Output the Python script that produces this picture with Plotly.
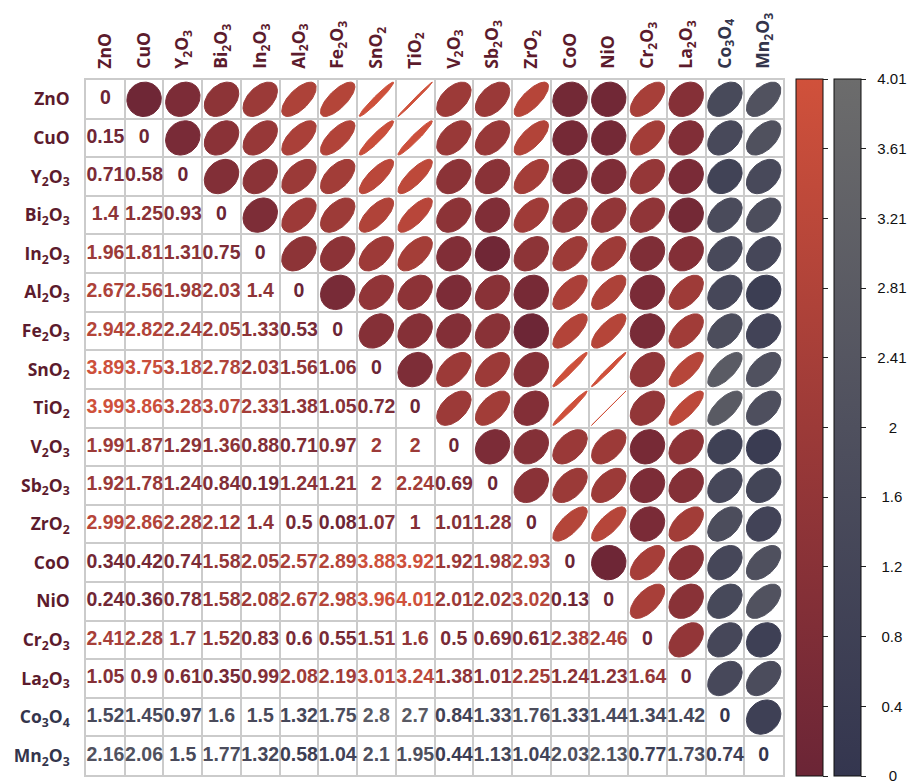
import numpy as np
import plotly.graph_objects as go
from plotly.colors import sample_colorscale

# Oxide names (HTML sub/superscripts are rendered by plotly)
oxides = ["ZnO", "CuO", "Y<sub>2</sub>O<sub>3</sub>", "Bi<sub>2</sub>O<sub>3</sub>",
          "In<sub>2</sub>O<sub>3</sub>", "Al<sub>2</sub>O<sub>3</sub>", "Fe<sub>2</sub>O<sub>3</sub>",
          "SnO<sub>2</sub>", "TiO<sub>2</sub>", "V<sub>2</sub>O<sub>3</sub>",
          "Sb<sub>2</sub>O<sub>3</sub>", "ZrO<sub>2</sub>", "CoO", "NiO",
          "Cr<sub>2</sub>O<sub>3</sub>", "La<sub>2</sub>O<sub>3</sub>",
          "Co<sub>3</sub>O<sub>4</sub>", "Mn<sub>2</sub>O<sub>3</sub>"]

# Oxides whose pairs use the grey scale
grey_group = ["Co<sub>3</sub>O<sub>4</sub>", "Mn<sub>2</sub>O<sub>3</sub>"]

# Pairwise distances, lower triangle (row i holds columns 0..i)
row_ZnO = [0]
row_CuO = [0.15, 0]
row_Y2O3 = [0.71, 0.58, 0]
row_Bi2O3 = [1.4, 1.25, 0.93, 0]
row_In2O3 = [1.96, 1.81, 1.31, 0.75, 0]
row_Al2O3 = [2.67, 2.56, 1.98, 2.03, 1.4, 0]
row_Fe2O3 = [2.94, 2.82, 2.24, 2.05, 1.33, 0.53, 0]
row_SnO2 = [3.89, 3.75, 3.18, 2.78, 2.03, 1.56, 1.06, 0]
row_TiO2 = [3.99, 3.86, 3.28, 3.07, 2.33, 1.38, 1.05, 0.72, 0]
row_V2O3 = [1.99, 1.87, 1.29, 1.36, 0.88, 0.71, 0.97, 2, 2, 0]
row_Sb2O3 = [1.92, 1.78, 1.24, 0.84, 0.19, 1.24, 1.21, 2, 2.24, 0.69, 0]
row_ZrO2 = [2.99, 2.86, 2.28, 2.12, 1.4, 0.5, 0.08, 1.07, 1, 1.01, 1.28, 0]
row_CoO = [0.34, 0.42, 0.74, 1.58, 2.05, 2.57, 2.89, 3.88, 3.92, 1.92, 1.98, 2.93, 0]
row_NiO = [0.24, 0.36, 0.78, 1.58, 2.08, 2.67, 2.98, 3.96, 4.01, 2.01, 2.02, 3.02, 0.13, 0]
row_Cr2O3 = [2.41, 2.28, 1.7, 1.52, 0.83, 0.6, 0.55, 1.51, 1.6, 0.5, 0.69, 0.61, 2.38, 2.46, 0]
row_La2O3 = [1.05, 0.9, 0.61, 0.35, 0.99, 2.08, 2.19, 3.01, 3.24, 1.38, 1.01, 2.25, 1.24, 1.23, 1.64, 0]
row_Co3O4 = [1.52, 1.45, 0.97, 1.6, 1.5, 1.32, 1.75, 2.8, 2.7, 0.84, 1.33, 1.76, 1.33, 1.44, 1.34, 1.42, 0]
row_Mn2O3 = [2.16, 2.06, 1.5, 1.77, 1.32, 0.58, 1.04, 2.1, 1.95, 0.44, 1.13, 1.04, 2.03, 2.13, 0.77, 1.73, 0.74, 0]

lower_rows = [row_ZnO, row_CuO, row_Y2O3, row_Bi2O3, row_In2O3, row_Al2O3, row_Fe2O3,
              row_SnO2, row_TiO2, row_V2O3, row_Sb2O3, row_ZrO2, row_CoO, row_NiO,
              row_Cr2O3, row_La2O3, row_Co3O4, row_Mn2O3]

# Colour bar ticks
tick_values = [0, 0.401, 0.802, 1.203, 1.604, 2.005, 2.406, 2.807, 3.208, 3.609, 4.01]
tick_labels = ["0", "0.4", "0.8", "1.2", "1.6", "2", "2.41", "2.81", "3.21", "3.61", "4.01"]

vmax = 4.01
red_scale = [[0.0, "#6b2536"], [0.5, "#9c3a38"], [1.0, "#d0513b"]]
grey_scale = [[0.0, "#34364f"], [0.5, "#4f505e"], [1.0, "#6c6c6c"]]

n = len(oxides)
D = np.zeros((n, n))
for i, row in enumerate(lower_rows):
    for j, v in enumerate(row):
        D[i, j] = v
        D[j, i] = v


def is_grey(i, j):
    return oxides[i] in grey_group or oxides[j] in grey_group


def colour_of(v, grey):
    return sample_colorscale(grey_scale if grey else red_scale, [v / vmax])[0]


fig = go.Figure()

# Upper triangle: ellipses whose flattening follows the value
R = 0.445
t = np.linspace(0, 2 * np.pi, 90)
for i in range(n):
    for j in range(i + 1, n):
        v = D[i, j]
        rho = min(v / vmax, 1.0)
        d = np.arccos(rho)
        u = np.cos(t + d / 2)
        w = np.cos(t - d / 2)
        c = colour_of(v, is_grey(i, j))
        fig.add_trace(go.Scatter(
            x=j + 0.5 + R * u, y=i + 0.5 - R * w,
            mode="lines", fill="toself", fillcolor=c,
            line=dict(color=c, width=1), hoverinfo="skip", showlegend=False))

# Lower triangle and diagonal: numeric labels
tx, ty, tt, tc = [], [], [], []
for i in range(n):
    for j in range(i + 1):
        v = D[i, j]
        tx.append(j + 0.5)
        ty.append(i + 0.5)
        tt.append(f"{v:g}")
        tc.append(colour_of(v, is_grey(i, j)))
fig.add_trace(go.Scatter(
    x=tx, y=ty, text=tt, mode="text",
    textfont=dict(family="Liberation Sans, Arial", size=19.5, color=tc, weight="bold"),
    hoverinfo="skip", showlegend=False))


def centred(s):
    # shift labels off the ticks and pad short ones so they sit centred
    pad = {1: "\u2007\u2009", 3: "\u2008", 4: ""}
    return "\u2007" + pad.get(len(s), "") + s


# Colour bars (carried by invisible markers)
common_bar = dict(thickness=26.5, lenmode="pixels", len=697, y=0.5, yanchor="middle",
                  yref="paper", ypad=0, xpad=0, xref="container", xanchor="left",
                  outlinewidth=1, outlinecolor="#111111",
                  tickmode="array", tickvals=tick_values, ticks="outside",
                  ticklen=5, tickwidth=1, tickcolor="#222222",
                  ticklabeloverflow="allow")
fig.add_trace(go.Scatter(
    x=[0.5, 0.5], y=[0.5, 0.5], mode="markers", hoverinfo="skip", showlegend=False,
    marker=dict(color=[0, vmax], coloraxis="coloraxis", size=1, opacity=0)))
fig.add_trace(go.Scatter(
    x=[0.5, 0.5], y=[0.5, 0.5], mode="markers", hoverinfo="skip", showlegend=False,
    marker=dict(color=[0, vmax], coloraxis="coloraxis2", size=1, opacity=0)))

label_colour = ["#34354c" if o in grey_group else "#5c1b2d" for o in oxides]
tick_text = [f"<span style='color:{c}'><b>{o}</b></span>" for o, c in zip(oxides, label_colour)]
centres = [k + 0.5 for k in range(n)]
grid = dict(tick0=0, dtick=1, showgrid=True, gridcolor="#cbcbcb", gridwidth=1.5, ticks="")
label_font = dict(family="Open Sans", size=17.5)

fig.update_layout(
    width=909, height=782,
    margin=dict(l=86, r=126, t=80, b=5, pad=0),
    plot_bgcolor="white", paper_bgcolor="white",
    xaxis=dict(range=[0, n], side="top", tickmode="array", tickvals=centres,
               ticktext=tick_text, tickangle=-90, showgrid=False, zeroline=False,
               ticks="", ticklabelstandoff=6, tickfont=label_font, minor=grid,
               showline=True, mirror=True, linecolor="#cbcbcb", linewidth=1.5,
               fixedrange=True),
    yaxis=dict(range=[n, 0], tickmode="array", tickvals=centres, ticktext=tick_text,
               showgrid=False, zeroline=False, ticks="", ticklabelstandoff=11,
               tickfont=label_font, minor=grid, showline=True, mirror=True,
               linecolor="#cbcbcb", linewidth=1.5, fixedrange=True),
    coloraxis=dict(colorscale=red_scale, cmin=0, cmax=vmax,
                   colorbar=dict(x=795.7 / 909, showticklabels=False, **common_bar)),
    coloraxis2=dict(colorscale=grey_scale, cmin=0, cmax=vmax,
                    colorbar=dict(x=834.3 / 909, ticktext=[centred(s) for s in tick_labels],
                                  tickfont=dict(family="Liberation Sans, Arial", size=15,
                                                color="#111111"),
                                  **common_bar)),
)

fig.write_html("out.html")
